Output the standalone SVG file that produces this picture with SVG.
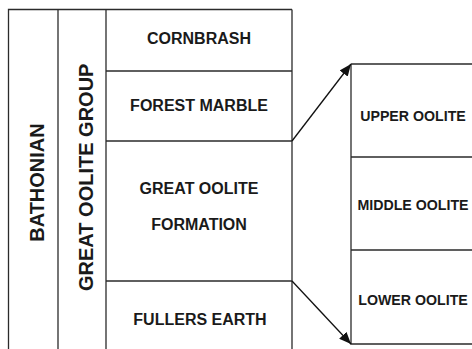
<svg xmlns="http://www.w3.org/2000/svg" width="472" height="349" viewBox="0 0 472 349">
<style>
.ln{stroke:#2b2b2b;stroke-width:1.3;fill:none}
.t{font-family:"Liberation Sans",Arial,sans-serif;font-weight:bold;fill:#1a1a1a;text-anchor:middle}
.l{font-size:16px}
.r{font-size:14.2px}
.v{font-size:20px}
</style>
<defs>
<marker id="ah" viewBox="0 0 12 10" refX="12" refY="5" markerWidth="12" markerHeight="10" markerUnits="userSpaceOnUse" orient="auto">
<path d="M0,0 L12,5 L0,10 Z" fill="#111"/>
</marker>
</defs>
<rect width="472" height="349" fill="#fff"/>
<g id="bathonian">
<path class="ln" d="M8.5,349 V9.5 H58"/>
<text class="t v" transform="translate(43.5,182.5) rotate(-90)">BATHONIAN</text>
</g>
<g id="great-oolite-group">
<path class="ln" d="M58,9.5 V349 M58,9.5 H106"/>
<text class="t v" transform="translate(92.7,177.3) rotate(-90)">GREAT OOLITE GROUP</text>
</g>
<g id="cornbrash">
<path class="ln" d="M106,9.5 H292 M106,9.5 V71 M292,9.5 V71"/>
<text class="t l" x="199" y="44">CORNBRASH</text>
</g>
<g id="forest-marble">
<path class="ln" d="M106,71 H292 M106,71 V141 M292,71 V141"/>
<text class="t l" x="199" y="110.5">FOREST MARBLE</text>
</g>
<g id="great-oolite-formation">
<path class="ln" d="M106,141 H292 M106,141 V281 M292,141 V281"/>
<text class="t l" x="199" y="194">GREAT OOLITE</text>
<text class="t l" x="199" y="230">FORMATION</text>
</g>
<g id="fullers-earth">
<path class="ln" d="M106,281 H292 M106,281 V349 M292,281 V349"/>
<text class="t l" x="200" y="325">FULLERS EARTH</text>
</g>
<g id="upper-oolite">
<path class="ln" d="M351,64 H472 M351,64 V157"/>
<text class="t r" x="413" y="121">UPPER OOLITE</text>
</g>
<g id="middle-oolite">
<path class="ln" d="M351,157 H472 M351,157 V250"/>
<text class="t r" x="413" y="209.5">MIDDLE OOLITE</text>
</g>
<g id="lower-oolite">
<path class="ln" d="M351,250 H472 M351,250 V344 H472"/>
<text class="t r" x="413" y="305">LOWER OOLITE</text>
</g>
<g id="connectors">
<line x1="292" y1="141" x2="351" y2="64" stroke="#111" stroke-width="1.3" marker-end="url(#ah)"/>
<line x1="292" y1="281" x2="351" y2="344" stroke="#111" stroke-width="1.3" marker-end="url(#ah)"/>
</g>
</svg>
